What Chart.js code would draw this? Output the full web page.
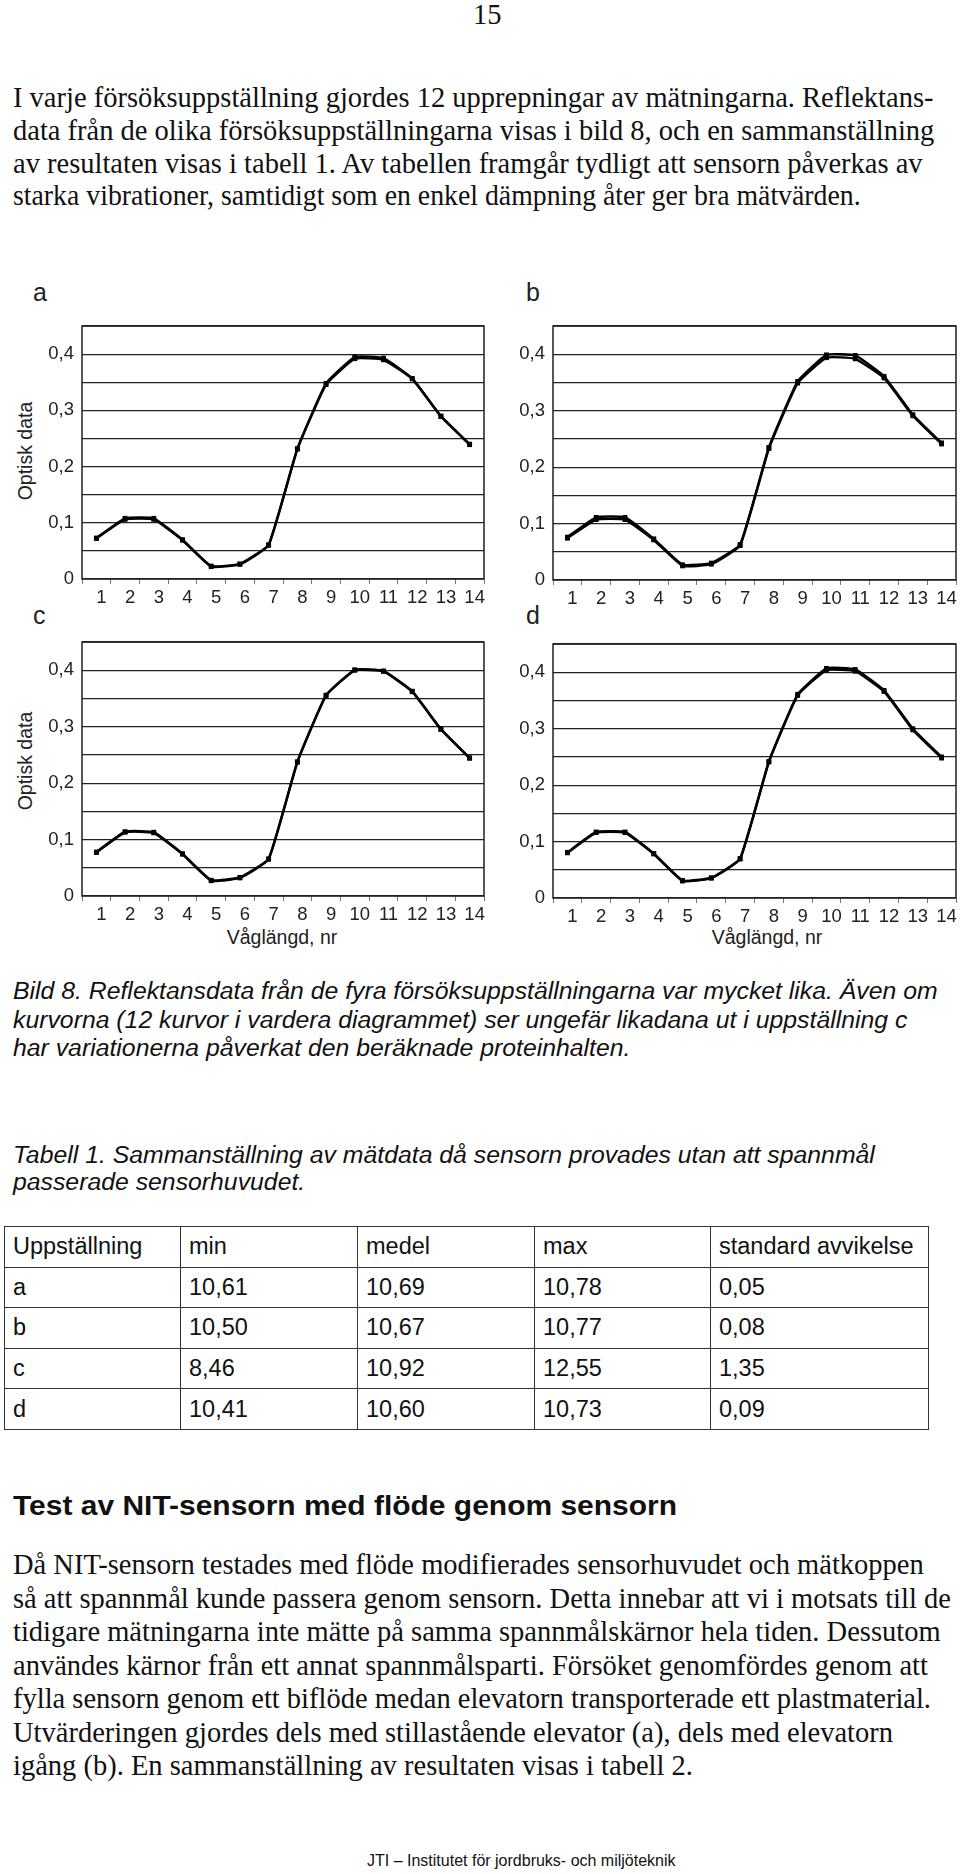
<!DOCTYPE html>
<html lang="sv">
<head>
<meta charset="utf-8">
<script src="https://cdn.jsdelivr.net/npm/chart.js@4.4.1/dist/chart.umd.min.js"></script>
<style>
  html, body { margin: 0; padding: 0; background: #fff; }
  body { width: 960px; height: 1874px; position: relative; overflow: hidden; color: #111; }
  .ln { position: absolute; white-space: nowrap; line-height: 1; transform-origin: 0 0; }
  .serif { font-family: "Liberation Serif", "Times New Roman", serif; font-size: 28.5px; }
  .sans { font-family: "Liberation Sans", Arial, sans-serif; }
  .cap { font-family: "Liberation Sans", Arial, sans-serif; font-style: italic; font-size: 23.5px; transform: scaleX(1.055); }
  .head { font-family: "Liberation Sans", Arial, sans-serif; font-weight: bold; font-size: 27.5px; transform: scaleX(1.09); }
  .panel { position: absolute; }
  .lbl { position: absolute; font-family: "Liberation Sans", Arial, sans-serif; color: #222; line-height: 1; white-space: nowrap; }
  .ylab { transform: translate(-50%, -50%) rotate(-90deg); font-size: 19.5px; }
  .xlab { transform: translate(-50%, -50%); font-size: 19.5px; }
  .letter { font-size: 25px; }
  table.res { position: absolute; left: 4px; top: 1226px; border-collapse: collapse;
              font-family: "Liberation Sans", Arial, sans-serif; font-size: 23.5px; color: #111; }
  table.res td { border: 1.5px solid #333; height: 39.6px; padding: 0 0 0 8px; vertical-align: middle; white-space: nowrap; }
</style>
</head>
<body>

<div class="ln serif" data-x="13" data-b="25" style="left:473px">15</div>

<div class="ln serif" data-x="13" data-b="108">I varje försöksuppställning gjordes 12 upprepningar av mätningarna. Reflektans-</div>
<div class="ln serif" data-x="13" data-b="140.7">data från de olika försöksuppställningarna visas i bild 8, och en sammanställning</div>
<div class="ln serif" data-x="13" data-b="173.4">av resultaten visas i tabell 1. Av tabellen framgår tydligt att sensorn påverkas av</div>
<div class="ln serif" data-x="13" data-b="206" style="transform:scaleX(0.975)">starka vibrationer, samtidigt som en enkel dämpning åter ger bra mätvärden.</div>

<div class="lbl letter" style="left:33px;top:280px">a</div>
<div class="lbl letter" style="left:526px;top:280px">b</div>
<div class="lbl letter" style="left:33px;top:603px">c</div>
<div class="lbl letter" style="left:526px;top:603px">d</div>
<div class="lbl ylab" style="left:26px;top:451px">Optisk data</div>
<div class="lbl ylab" style="left:26px;top:761px">Optisk data</div>
<div class="lbl xlab" style="left:282px;top:938px">Våglängd, nr</div>
<div class="lbl xlab" style="left:767px;top:938px">Våglängd, nr</div>

<canvas id="c-a" class="panel" width="446" height="302" style="left:42px;top:307px"></canvas>
<canvas id="c-b" class="panel" width="447" height="303" style="left:513px;top:307px"></canvas>
<canvas id="c-c" class="panel" width="446" height="303" style="left:42px;top:623px"></canvas>
<canvas id="c-d" class="panel" width="447" height="303" style="left:513px;top:625px"></canvas>

<div class="ln cap" data-x="13" data-b="1000">Bild 8. Reflektansdata från de fyra försöksuppställningarna var mycket lika. Även om</div>
<div class="ln cap" data-x="13" data-b="1029">kurvorna (12 kurvor i vardera diagrammet) ser ungefär likadana ut i uppställning c</div>
<div class="ln cap" data-x="13" data-b="1057">har variationerna påverkat den beräknade proteinhalten.</div>

<div class="ln cap" data-x="13" data-b="1164">Tabell 1. Sammanställning av mätdata då sensorn provades utan att spannmål</div>
<div class="ln cap" data-x="13" data-b="1191">passerade sensorhuvudet.</div>

<table class="res">
  <tr><td style="width:167px">Uppställning</td><td style="width:168px">min</td><td style="width:168px">medel</td><td style="width:167px">max</td><td style="width:209px">standard avvikelse</td></tr>
  <tr><td>a</td><td>10,61</td><td>10,69</td><td>10,78</td><td>0,05</td></tr>
  <tr><td>b</td><td>10,50</td><td>10,67</td><td>10,77</td><td>0,08</td></tr>
  <tr><td>c</td><td>8,46</td><td>10,92</td><td>12,55</td><td>1,35</td></tr>
  <tr><td>d</td><td>10,41</td><td>10,60</td><td>10,73</td><td>0,09</td></tr>
</table>

<div class="ln head" data-x="13" data-b="1515">Test av NIT-sensorn med flöde genom sensorn</div>

<div class="ln serif" data-x="13" data-b="1575">Då NIT-sensorn testades med flöde modifierades sensorhuvudet och mätkoppen</div>
<div class="ln serif" data-x="13" data-b="1608.5">så att spannmål kunde passera genom sensorn. Detta innebar att vi i motsats till de</div>
<div class="ln serif" data-x="13" data-b="1642">tidigare mätningarna inte mätte på samma spannmålskärnor hela tiden. Dessutom</div>
<div class="ln serif" data-x="13" data-b="1675.5">användes kärnor från ett annat spannmålsparti. Försöket genomfördes genom att</div>
<div class="ln serif" data-x="13" data-b="1709">fylla sensorn genom ett biflöde medan elevatorn transporterade ett plastmaterial.</div>
<div class="ln serif" data-x="13" data-b="1742.5">Utvärderingen gjordes dels med stillastående elevator (a), dels med elevatorn</div>
<div class="ln serif" data-x="13" data-b="1776">igång (b). En sammanställning av resultaten visas i tabell 2.</div>

<div class="ln sans" data-x="367" data-b="1867" style="font-size:16px">JTI – Institutet för jordbruks- och miljöteknik</div>

<script>
"use strict";

/* ── data (two of the overlapping curves each) ── */
const WAVE = ["1", "2", "3", "4", "5", "6", "7", "8", "9", "10", "11", "12", "13", "14"];
const Y_MAX = 0.45;
const Y_STEP = 0.05;

const A_LOW  = [0.072, 0.106, 0.106, 0.069, 0.022, 0.026, 0.060, 0.231, 0.346, 0.392, 0.390, 0.356, 0.289, 0.239];
const A_HIGH = [0.073, 0.108, 0.108, 0.070, 0.023, 0.027, 0.061, 0.232, 0.348, 0.395, 0.393, 0.357, 0.290, 0.240];
const B_LOW  = [0.074, 0.107, 0.107, 0.071, 0.025, 0.028, 0.061, 0.233, 0.349, 0.394, 0.392, 0.358, 0.291, 0.241];
const B_HIGH = [0.076, 0.111, 0.111, 0.073, 0.027, 0.030, 0.063, 0.235, 0.352, 0.399, 0.398, 0.361, 0.293, 0.243];
const C_LOW  = [0.077, 0.113, 0.112, 0.074, 0.027, 0.032, 0.065, 0.237, 0.355, 0.400, 0.398, 0.362, 0.295, 0.244];
const C_HIGH = [0.078, 0.114, 0.113, 0.075, 0.028, 0.033, 0.066, 0.238, 0.356, 0.401, 0.399, 0.363, 0.296, 0.245];
const D_LOW  = [0.080, 0.116, 0.116, 0.078, 0.030, 0.035, 0.069, 0.241, 0.359, 0.404, 0.402, 0.366, 0.298, 0.248];
const D_HIGH = [0.081, 0.117, 0.117, 0.079, 0.031, 0.036, 0.070, 0.242, 0.361, 0.407, 0.405, 0.368, 0.300, 0.250];

/* ── place the text lines by baseline ── */
document.querySelectorAll(".ln").forEach(el => {
  const fs = parseFloat(getComputedStyle(el).fontSize);
  const serif = el.classList.contains("serif");
  const base = serif ? 0.8375 : 0.8465;
  if (!el.style.left) el.style.left = el.dataset.x + "px";
  el.style.top = (parseFloat(el.dataset.b) - base * fs) + "px";
});

const INK = "#222";
const FONT = { family: '"Liberation Sans", Arial, sans-serif', size: 18.5 };

Chart.defaults.animation = false;
Chart.defaults.color = INK;
Chart.defaults.font.family = FONT.family;

const frame = {
  id: "frame",
  beforeDatasetsDraw(chart) {
    const a = chart.chartArea, ctx = chart.ctx;
    ctx.save();
    ctx.strokeStyle = INK;
    ctx.lineWidth = 1.5;
    ctx.strokeRect(a.left, a.top, a.right - a.left, a.bottom - a.top);
    ctx.restore();
  },
};

function tickLabel(v) {
  const k = Math.round(v / Y_STEP);
  if (k % 2 !== 0 || v > 0.41) return "";
  return String(k / 20).replace(".", ",");
}

function curve(data) {
  return {
    data, borderColor: "#000", borderWidth: 2.4, tension: 0.12,
    pointStyle: "rect", pointRadius: 3.4, pointBackgroundColor: "#000", pointBorderColor: "#000",
    pointBorderWidth: 0,
  };
}

function panel(id, low, high) {
  new Chart(document.getElementById(id), {
    type: "line",
    data: { labels: WAVE, datasets: [curve(low), curve(high)] },
    options: {
      responsive: false,
      layout: { padding: { top: 10, right: 4, left: 0, bottom: 0 } },
      plugins: { legend: { display: false }, tooltip: { enabled: false } },
      scales: {
        x: {
          offset: true,
          grid: { offset: true, drawOnChartArea: false, tickLength: 5, color: "#777", lineWidth: 1 },
          border: { display: false },
          ticks: { font: FONT, color: INK, padding: 3, labelOffset: 5, maxRotation: 0, autoSkip: false },
          afterFit: s => { s.height = 30; },
        },
        y: {
          min: 0, max: Y_MAX,
          grid: { color: INK, lineWidth: 1.3, drawTicks: false },
          border: { display: false },
          ticks: { stepSize: Y_STEP, font: FONT, color: INK, padding: 8, callback: tickLabel },
          afterFit: s => { s.width = 40; },
        },
      },
    },
    plugins: [frame],
  });
}

panel("c-a", A_LOW, A_HIGH);
panel("c-b", B_LOW, B_HIGH);
panel("c-c", C_LOW, C_HIGH);
panel("c-d", D_LOW, D_HIGH);
</script>
</body>
</html>
